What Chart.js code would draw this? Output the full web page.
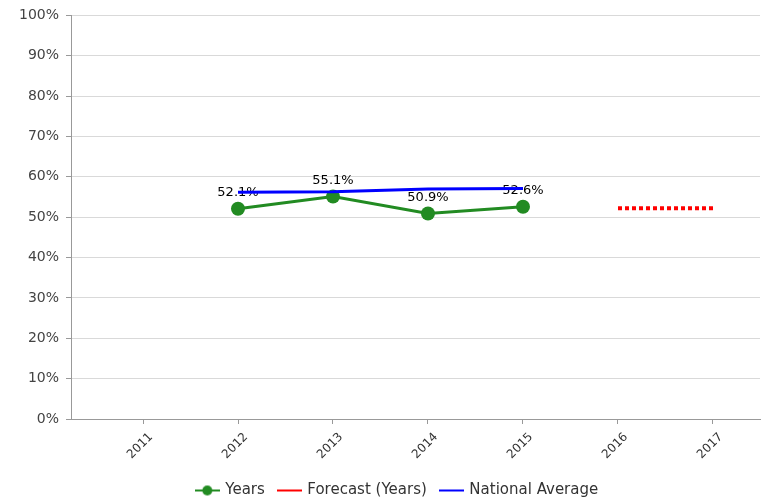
<!DOCTYPE html>
<html lang="en">
<head>
<meta charset="UTF-8">
<title>Years vs National Average</title>
<script src="https://cdn.jsdelivr.net/npm/chart.js@4"></script>
<style>
  html, body { margin: 0; padding: 0; background: #fff; }
  #wrap { width: 767px; height: 502px; }
</style>
</head>
<body>
<div id="wrap"><canvas id="myChart" width="767" height="502"></canvas></div>
<script>
var years = [2011, 2012, 2013, 2014, 2015, 2016, 2017];
var yearsSeries = [[2012, 52.1], [2013, 55.1], [2014, 50.9], [2015, 52.6]];
var forecastSeries = [[2016, 52.2], [2017, 52.2]];
var nationalSeries = [[2012, 56.2], [2013, 56.3], [2014, 57.0], [2015, 57.1]];
var yTicks = [0, 10, 20, 30, 40, 50, 60, 70, 80, 90, 100];
var legendNames = ['Years', 'Forecast (Years)', 'National Average'];

var FONT = 'DejaVu Sans, Tahoma, sans-serif';

function toPoints(arr) {
  return arr.map(function (p) { return { x: p[0], y: p[1] }; });
}

function legendIcon(color, dot) {
  var c = document.createElement('canvas');
  c.width = 25; c.height = 14;
  var g = c.getContext('2d');
  g.strokeStyle = color;
  g.lineWidth = 2;
  g.beginPath(); g.moveTo(0, 7); g.lineTo(25, 7); g.stroke();
  if (dot) {
    g.fillStyle = color;
    g.beginPath(); g.arc(12.5, 7, 5, 0, Math.PI * 2); g.fill();
  }
  return c;
}

var valueLabels = {
  id: 'valueLabels',
  afterDatasetDraw: function (chart, args) {
    if (args.index !== 0) return;
    var ctx = chart.ctx;
    var meta = args.meta;
    ctx.save();
    ctx.font = '13px ' + FONT;
    ctx.fillStyle = '#000';
    ctx.textAlign = 'center';
    ctx.textBaseline = 'middle';
    meta.data.forEach(function (pt, i) {
      ctx.fillText(yearsSeries[i][1].toFixed(1) + '%', pt.x, pt.y - 16);
    });
    ctx.restore();
  }
};

// legend sits a bit right of the canvas centre in the original
var legendShift = {
  id: 'legendShift',
  afterLayout: function (chart) {
    if (chart.legend) chart.legend.left += 30;
  }
};

var ctx = document.getElementById('myChart').getContext('2d');
var myChart = new Chart(ctx, {
  type: 'line',
  data: {
    datasets: [{
      label: legendNames[0],
      data: toPoints(yearsSeries),
      borderColor: '#228B22',
      backgroundColor: '#228B22',
      borderWidth: 3,
      pointRadius: 7,
      pointBorderWidth: 0,
      order: 1
    }, {
      label: legendNames[1],
      data: toPoints(forecastSeries),
      borderColor: '#FF0000',
      borderWidth: 4,
      borderDash: [4, 3],
      borderCapStyle: 'butt',
      pointRadius: 0,
      order: 2
    }, {
      label: legendNames[2],
      data: toPoints(nationalSeries),
      borderColor: '#0000FF',
      borderWidth: 3,
      pointRadius: 0,
      order: 0
    }]
  },
  options: {
    responsive: false,
    animation: false,
    layout: { padding: { top: 7, right: 2, left: 0, bottom: -6 } },
    plugins: {
      tooltip: { enabled: false },
      legend: {
        position: 'bottom',
        labels: {
          usePointStyle: true,
          pointStyleWidth: 21,
          padding: 14,
          color: '#333',
          font: { family: FONT, size: 15 },
          generateLabels: function () {
            var cols = ['#228B22', '#FF0000', '#0000FF'];
            return legendNames.map(function (n, i) {
              return { text: n, pointStyle: legendIcon(cols[i], i === 0), datasetIndex: i, lineWidth: 0, fontColor: '#333' };
            });
          }
        }
      }
    },
    scales: {
      x: {
        type: 'linear',
        min: 2010.242,
        max: 2017.495,
        afterBuildTicks: function (scale) {
          scale.ticks = years.map(function (y) { return { value: y }; });
        },
        afterFit: function (scale) {
          scale.height = 50;
        },
        ticks: {
          minRotation: 45,
          maxRotation: 45,
          color: '#333',
          font: { family: FONT, size: 12 },
          padding: 6,
          labelOffset: 8,
          callback: function (v) { return String(v); }
        },
        grid: { drawOnChartArea: false, drawTicks: true, tickLength: 5, tickColor: '#999' },
        border: { color: '#999', width: 1 }
      },
      y: {
        min: 0,
        max: 100,
        afterBuildTicks: function (scale) {
          scale.ticks = yTicks.map(function (v) { return { value: v }; });
        },
        afterFit: function (scale) { scale.width = 71; },
        ticks: {
          color: '#444',
          padding: 7,
          font: { family: FONT, size: 14 },
          callback: function (v) { return v + '%'; }
        },
        grid: { color: '#d9d9d9', tickLength: 5, tickColor: '#999' },
        border: { color: '#999', width: 1 }
      }
    }
  },
  plugins: [valueLabels, legendShift]
});
</script>
</body>
</html>
